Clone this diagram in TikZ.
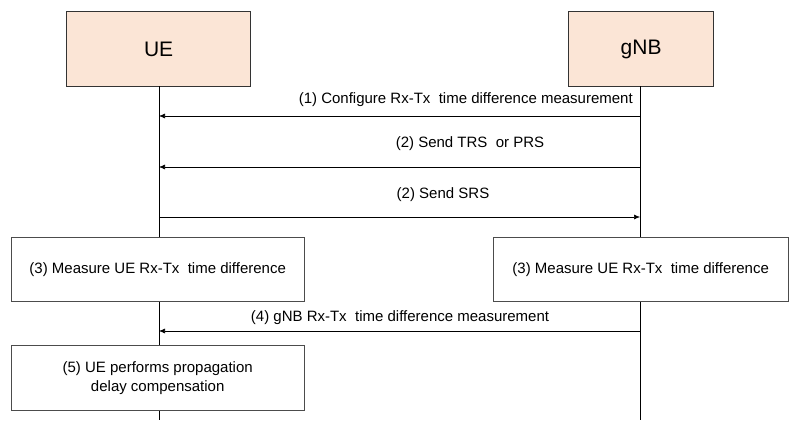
\documentclass[tikz,border=0pt]{standalone}
\usepackage{fontspec}
\setmainfont{Liberation Sans}
\usetikzlibrary{arrows.meta}
\begin{document}
\begin{tikzpicture}[x=1pt,y=-1pt,
  ent/.style={draw=black!80,fill=peach,line width=1.2pt,anchor=north west,inner sep=0},
  pbox/.style={draw=black!70,fill=white,anchor=north west,inner sep=0,align=center,font=\fontsize{15}{19}\selectfont},
  msg/.style={-{Latex[length=6pt,width=5pt]},line width=0.6pt},
  lbl/.style={font=\fontsize{15}{18}\selectfont,inner sep=1pt},
  life/.style={line width=0.6pt}]
\definecolor{peach}{HTML}{FBE5D6}
\useasboundingbox (0,0) rectangle (799,432);
\node[ent,minimum width=184pt,minimum height=75pt,font=\fontsize{21}{23}\selectfont] (ue) at (66,11) {UE};
\node[ent,minimum width=145pt,minimum height=75pt,font=\fontsize{21}{23}\selectfont] (gnb) at (568,11) {gNB};
\coordinate (uetop) at (159,86);
\coordinate (gnbtop) at (640,86);
\coordinate (uebot) at (159,420);
\coordinate (gnbbot) at (640,420);
\draw[life] (uetop) -- (uebot);
\draw[life] (gnbtop) -- (gnbbot);
\node[pbox,minimum width=293pt,minimum height=64pt] (m1) at (11,237) {(3) Measure UE Rx-Tx\ \ time difference};
\node[pbox,minimum width=295pt,minimum height=64pt] (m2) at (493,237) {(3) Measure UE Rx-Tx\ \ time difference};
\node[pbox,minimum width=293pt,minimum height=65pt] (p5) at (11,345) {(5) UE performs propagation\\delay compensation};
\coordinate (a1s) at (640,116); \coordinate (a1e) at (159,116);
\coordinate (a2s) at (640,167); \coordinate (a2e) at (159,167);
\coordinate (a3s) at (159,217); \coordinate (a3e) at (640,217);
\coordinate (a4s) at (640,331); \coordinate (a4e) at (159,331);
\draw[msg] (a1s) -- (a1e);
\draw[msg] (a2s) -- (a2e);
\draw[msg] (a3s) -- (a3e);
\draw[msg] (a4s) -- (a4e);
\node[lbl,anchor=east] (l1) at (634,100) {(1) Configure Rx-Tx\ \ time difference measurement};
\node[lbl] (l2) at (470,144) {(2) Send TRS\ \ or PRS};
\node[lbl] (l3) at (443,195) {(2) Send SRS};
\node[lbl] (l4) at (400,318) {(4) gNB Rx-Tx\ \ time difference measurement};
\end{tikzpicture}
\end{document}
